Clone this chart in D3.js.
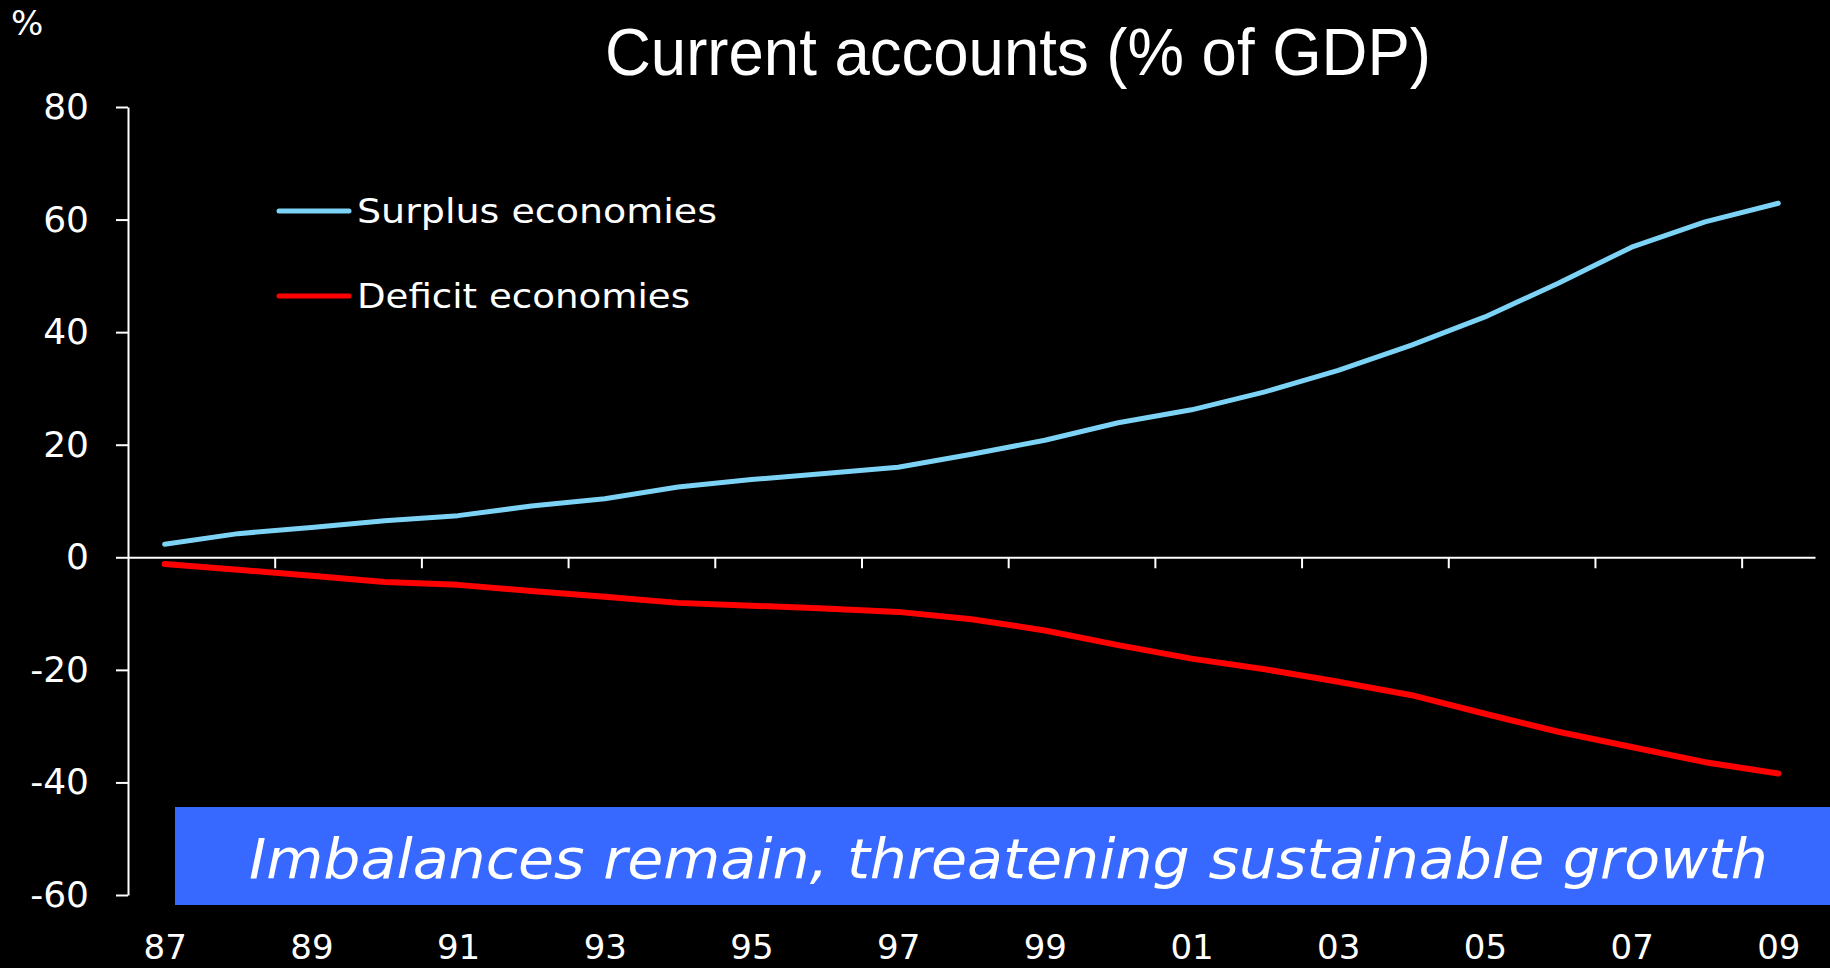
<!DOCTYPE html>
<html>
<head>
<meta charset="utf-8">
<script src="https://cdn.jsdelivr.net/npm/d3@7"></script>
<style>
  html, body { margin: 0; padding: 0; background: #000; }
  svg { display: block; }
</style>
</head>
<body>
<svg id="chart" width="1830" height="968"></svg>
<script>
// ---- data ----
const years = [1987,1988,1989,1990,1991,1992,1993,1994,1995,1996,1997,1998,1999,2000,2001,2002,2003,2004,2005,2006,2007,2008,2009];
const surplus = [2.3,4.2,5.3,6.5,7.4,9.1,10.4,12.5,13.8,14.9,16.0,18.3,20.8,23.9,26.2,29.4,33.2,37.7,42.7,48.7,55.1,59.6,62.9];
const deficit = [-1.2,-2.2,-3.3,-4.4,-4.9,-6.0,-7.0,-8.1,-8.6,-9.1,-9.7,-11.0,-13.0,-15.6,-18.0,-19.9,-22.1,-24.5,-27.8,-31.0,-33.7,-36.4,-38.4];
const seriesNames = ["Surplus economies", "Deficit economies"];
const yTicks = [80, 60, 40, 20, 0, -20, -40, -60];
const xLabelYears = [1987,1989,1991,1993,1995,1997,1999,2001,2003,2005,2007,2009];
const xLabelText = ["87","89","91","93","95","97","99","01","03","05","07","09"];
const xTickYears = [1988.5,1990.5,1992.5,1994.5,1996.5,1998.5,2000.5,2002.5,2004.5,2006.5,2008.5];
const titleText = "Current accounts (% of GDP)";
const unitText = "%";
const bannerText = "Imbalances remain, threatening sustainable growth";

// ---- layout ----
const svg = d3.select("#chart");
const x = d3.scaleLinear().domain([1986.5, 2009.5]).range([128, 1815]);
const y = d3.scaleLinear().domain([-60, 80]).range([895, 107]);
const colors = ["#7dd3f5", "#ff0000"];
const labelFont = "'DejaVu Sans', sans-serif";

svg.append("rect").attr("width", 1830).attr("height", 968).attr("fill", "#000");

// title
svg.append("text")
  .attr("x", 605).attr("y", 75)
  .attr("textLength", 826).attr("lengthAdjust", "spacingAndGlyphs")
  .attr("fill", "#fff")
  .style("font-family", "'Liberation Sans', Arial, sans-serif")
  .style("font-size", "67px")
  .text(titleText);

// unit
svg.append("text")
  .attr("x", 11).attr("y", 35)
  .attr("fill", "#fff")
  .style("font-family", labelFont)
  .style("font-size", "34px")
  .text(unitText);

// y axis
const yAxis = d3.axisLeft(y).tickValues(yTicks).tickSize(12).tickSizeOuter(0).tickPadding(27)
  .tickFormat(d => d);
const gy = svg.append("g").attr("transform", "translate(128,0)").call(yAxis);
gy.select(".domain").attr("stroke", "#fff").attr("stroke-width", 2);
gy.selectAll(".tick line").attr("stroke", "#fff").attr("stroke-width", 2);
gy.selectAll(".tick text").attr("fill", "#fff")
  .style("font-family", labelFont).style("font-size", "36px");

// x axis (zero line with ticks)
const xAxis = d3.axisBottom(x).tickValues(xTickYears).tickSize(11).tickSizeOuter(0).tickFormat("");
const gx = svg.append("g").attr("transform", `translate(0,${y(0)})`).call(xAxis);
gx.select(".domain").attr("stroke", "#fff").attr("stroke-width", 2);
gx.selectAll(".tick line").attr("stroke", "#fff").attr("stroke-width", 2);

// x labels (baseline placed directly)
const xLab = d3.axisBottom(x).tickValues(xLabelYears).tickSize(0).tickPadding(0)
  .tickFormat((d, i) => xLabelText[i]);
const gxl = svg.append("g").attr("transform", "translate(0,959)").call(xLab);
gxl.select(".domain").remove();
gxl.selectAll(".tick text").attr("fill", "#fff").attr("y", 0).attr("dy", 0)
  .style("font-family", labelFont).style("font-size", "34px");

// lines
const line = d3.line().x((d, i) => x(years[i])).y(d => y(d)).curve(d3.curveLinear);
[surplus, deficit].forEach((s, k) => {
  svg.append("path").datum(s)
    .attr("d", line)
    .attr("fill", "none")
    .attr("stroke", colors[k])
    .attr("stroke-width", k === 0 ? 5 : 6)
    .attr("stroke-linecap", "round")
    .attr("stroke-linejoin", "round");
});

// legend
const legY = [211, 296];
const legW = [360, 333];
seriesNames.forEach((n, k) => {
  svg.append("line")
    .attr("x1", 279).attr("x2", 349).attr("y1", legY[k]).attr("y2", legY[k])
    .attr("stroke", colors[k]).attr("stroke-width", 5).attr("stroke-linecap", "round");
  svg.append("text")
    .attr("x", 357).attr("y", legY[k] + 12)
    .attr("textLength", legW[k]).attr("lengthAdjust", "spacingAndGlyphs")
    .attr("fill", "#fff")
    .style("font-family", labelFont).style("font-size", "34px")
    .text(n);
});

// banner
svg.append("rect")
  .attr("x", 175).attr("y", 807).attr("width", 1655).attr("height", 98)
  .attr("fill", "#3768ff");
svg.append("text")
  .attr("x", 249).attr("y", 878)
  .attr("textLength", 1519).attr("lengthAdjust", "spacingAndGlyphs")
  .attr("fill", "#fff")
  .style("font-family", "'DejaVu Sans', sans-serif")
  .style("font-style", "italic")
  .style("font-size", "56px")
  .text(bannerText);
</script>
</body>
</html>
